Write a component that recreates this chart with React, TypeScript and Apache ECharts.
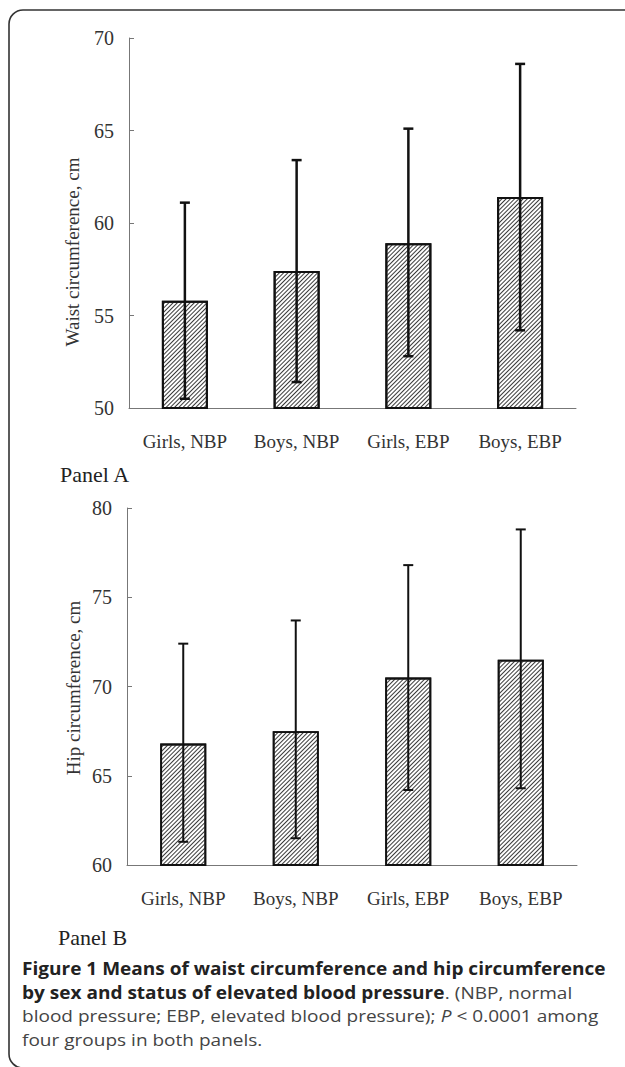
import React, { useEffect, useRef } from "react";
import * as echarts from "echarts";

const categories = ["Girls, NBP", "Boys, NBP", "Girls, EBP", "Boys, EBP"];

const waistMeans = [55.8, 57.4, 58.9, 61.4];
const waistUpper = [61.1, 63.4, 65.1, 68.6];
const waistLower = [50.5, 51.4, 52.8, 54.2];

const hipMeans = [66.8, 67.5, 70.5, 71.5];
const hipUpper = [72.4, 73.7, 76.8, 78.8];
const hipLower = [61.3, 61.5, 64.2, 64.3];

const waistAxis = { min: 50, max: 70, interval: 5 };
const hipAxis = { min: 60, max: 80, interval: 5 };

const axisNames = ["Waist circumference, cm", "Hip circumference, cm"];
const panelLabels = ["Panel A", "Panel B"];

const captionLines = [
  "{b|Figure 1 Means of waist circumference and hip circumference}",
  "{b|by sex and status of elevated blood pressure}{r|. (NBP, normal}",
  "{r|blood pressure; EBP, elevated blood pressure); }{i|P}{r| < 0.0001 among}",
  "{r|four groups in both panels.}",
];

const SERIF = "'Liberation Serif', 'Times New Roman', serif";
const SANS = "'Open Sans', 'Noto Sans', sans-serif";

function errorRenderer(lw: number) {
  return (params: any, api: any) => {
    const x = api.value(0);
    const lo = api.value(1);
    const hi = api.value(2);
    const top = api.coord([x, hi]);
    const bot = api.coord([x, lo]);
    const hw = 5;
    const st = { stroke: "#111", lineWidth: lw };
    return {
      type: "group",
      children: [
        { type: "line", shape: { x1: top[0], y1: top[1], x2: bot[0], y2: bot[1] }, style: st },
        { type: "line", shape: { x1: top[0] - hw, y1: top[1], x2: top[0] + hw, y2: top[1] }, style: st },
        { type: "line", shape: { x1: bot[0] - hw, y1: bot[1], x2: bot[0] + hw, y2: bot[1] }, style: st },
      ],
    };
  };
}

const decal = {
  symbol: "rect",
  symbolSize: 1,
  color: "#3a3a3a",
  dashArrayX: [1, 0],
  dashArrayY: [1, 2],
  rotation: -Math.PI / 4,
};

const captionRich = {
  b: { fontFamily: SANS, fontSize: 17, fontWeight: "bold", fill: "#222" },
  r: { fontFamily: SANS, fontSize: 17, fontWeight: "normal", fill: "#444" },
  i: { fontFamily: SANS, fontSize: 17, fontStyle: "italic", fill: "#444" },
};

export default function App() {
  const ref = useRef<HTMLDivElement>(null);
  useEffect(() => {
    document.body.style.margin = "0";
    if (!ref.current) return;
    const chart = echarts.init(ref.current, undefined, { renderer: "svg" });

    const xAxisCommon = (gridIndex: number) => ({
      type: "category",
      gridIndex,
      data: categories,
      axisLine: { lineStyle: { color: "#777", width: 1 } },
      axisTick: { inside: true, length: 7, lineStyle: { color: "#777" } },
      axisLabel: { fontFamily: SERIF, fontSize: 19, color: "#333", margin: 24 },
    });
    const yAxisCommon = (gridIndex: number, ax: any) => ({
      type: "value",
      gridIndex,
      min: ax.min,
      max: ax.max,
      interval: ax.interval,
      axisLine: { show: true, lineStyle: { color: "#777", width: 1 } },
      axisTick: { show: true, inside: true, length: 5, lineStyle: { color: "#777" } },
      axisLabel: { fontFamily: SERIF, fontSize: 20, color: "#333", margin: 15 },
      splitLine: { show: false },
    });

    chart.setOption({
      animation: false,
      backgroundColor: "#fff",
      grid: [
        { left: 129, top: 38, width: 447, height: 370 },
        { left: 127, top: 508, width: 450, height: 357 },
      ],
      xAxis: [xAxisCommon(0), xAxisCommon(1)],
      yAxis: [yAxisCommon(0, waistAxis), yAxisCommon(1, hipAxis)],
      series: [
        {
          type: "bar",
          xAxisIndex: 0,
          yAxisIndex: 0,
          data: waistMeans,
          barWidth: 46,
          itemStyle: { color: "#fff", borderColor: "#111", borderWidth: 2, decal },
        },
        {
          type: "custom",
          xAxisIndex: 0,
          yAxisIndex: 0,
          z: 5,
          renderItem: errorRenderer(2.5),
          encode: { x: 0, y: [1, 2] },
          data: waistMeans.map((_, i) => [i, waistLower[i], waistUpper[i]]),
        },
        {
          type: "bar",
          xAxisIndex: 1,
          yAxisIndex: 1,
          data: hipMeans,
          barWidth: 46,
          itemStyle: { color: "#fff", borderColor: "#111", borderWidth: 1.8, decal },
        },
        {
          type: "custom",
          xAxisIndex: 1,
          yAxisIndex: 1,
          z: 5,
          renderItem: errorRenderer(2),
          encode: { x: 0, y: [1, 2] },
          data: hipMeans.map((_, i) => [i, hipLower[i], hipUpper[i]]),
        },
      ],
      graphic: [
        {
          type: "rect",
          silent: true,
          shape: { x: 9, y: 10, width: 640, height: 1058, r: 14 },
          style: { fill: "none", stroke: "#333", lineWidth: 1.6 },
        },
        {
          type: "text",
          x: 72,
          y: 252,
          rotation: Math.PI / 2,
          style: {
            text: axisNames[0],
            font: `19px ${SERIF}`,
            fill: "#333",
            align: "center",
            verticalAlign: "middle",
          },
        },
        {
          type: "text",
          x: 73,
          y: 688,
          rotation: Math.PI / 2,
          style: {
            text: axisNames[1],
            font: `19px ${SERIF}`,
            fill: "#333",
            align: "center",
            verticalAlign: "middle",
          },
        },
        {
          type: "text",
          left: 60,
          top: 463,
          style: { text: panelLabels[0], font: `22px ${SERIF}`, fill: "#222" },
        },
        {
          type: "text",
          left: 58,
          top: 926,
          style: { text: panelLabels[1], font: `22px ${SERIF}`, fill: "#222" },
        },
        ...captionLines.map((line, i) => ({
          type: "text",
          x: 22,
          y: 960 + i * 23.5,
          scaleX: 1.12,
          style: { text: line, rich: captionRich, verticalAlign: "top", align: "left" },
        })),
      ],
    });
    return () => chart.dispose();
  }, []);
  return <div ref={ref} style={{ width: 625, height: 1067 }} />;
}
